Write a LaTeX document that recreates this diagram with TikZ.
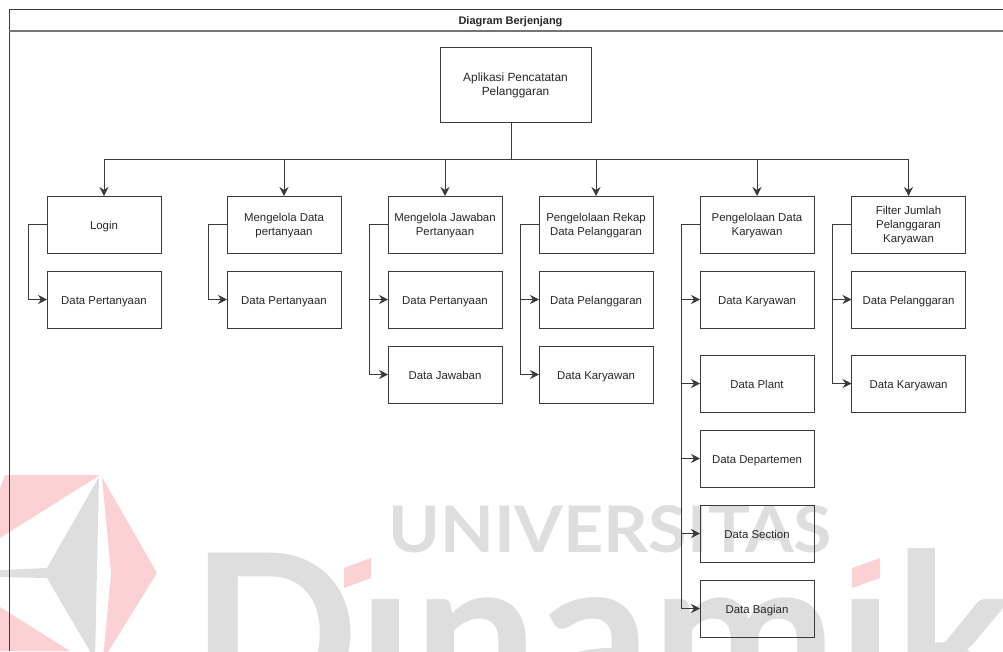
\documentclass[tikz,border=0pt]{standalone}
\usepackage{fontspec}
\usepackage{graphicx}
\setmainfont{Liberation Sans}
\newfontfamily\wmfont{Lato}
\usetikzlibrary{arrows.meta}
\definecolor{wmgray}{HTML}{DEDEDE}
\definecolor{wmred}{HTML}{FBD1D4}
\definecolor{ln}{HTML}{3A3A3A}
\newcommand\mlines[1]{\raisebox{-4pt}[0pt][0pt]{\begin{tabular}{@{}c@{}}#1\end{tabular}}}
\tikzset{
  basebox/.style={draw=ln,line width=0.9pt,minimum width=114pt,minimum height=57pt,inner sep=0pt,outer sep=0pt,font=\fontsize{11.4}{14}\selectfont,text=black!85},
  box/.style={basebox,execute at begin node={\rule{0pt}{12.5pt}},execute at end node={\rule[-3pt]{0pt}{0pt}}},
  mbox/.style={basebox},
  rootbox/.style={mbox,minimum width=151pt,minimum height=75pt,font=\fontsize{11.9}{14}\selectfont},
  conn/.style={draw=ln,line width=0.9pt,-{Stealth[length=9pt,width=9pt,inset=3pt]}},
  wire/.style={draw=ln,line width=0.9pt},
  wmtext/.style={inner sep=0pt,outer sep=0pt,anchor=base west,text=wmgray},
}
\begin{document}
\begin{tikzpicture}[x=1pt,y=-1pt]
\useasboundingbox (0,0) rectangle (1003,651);
% watermark
\begin{scope}
\clip (0,0) rectangle (1003,651);
\fill[wmred] (5,475) -- (100,475) -- (0,538) -- (0,488) -- cycle;
\fill[wmred] (102,477) -- (157,573) -- (103,660) -- (111,573) -- cycle;
\fill[wmred] (0,607) -- (70,651) -- (0,651) -- cycle;
\fill[wmgray] (99,477) -- (47,568) -- (0,570) -- (0,577) -- (47,578) -- (95,660) -- cycle;
\node[wmtext] (wmu) at (388,552) {\resizebox{444pt}{47pt}{\wmfont\bfseries UNIVERSITAS}};
\node[wmtext,font=\wmfont\bfseries\fontsize{222}{222}\selectfont] (wmd) at (190,713) {Dınamık};
\fill[wmred] (344,568) -- (371,558) -- (371,578) -- (344,588) -- cycle;
\fill[wmred] (852,568) -- (880,558) -- (880,578) -- (852,588) -- cycle;
\end{scope}
% frame
\draw[ln,line width=0.9pt] (1003,9.5) -- (9,9.5) -- (9,651);
\draw[ln!70,line width=1.2pt] (9,31) -- (1003,31);
\node[inner sep=0pt,font=\bfseries\fontsize{11}{13}\selectfont,text=black!85] (title) at (510.5,21.5) {Diagram Berjenjang};
% nodes
\node[rootbox] (root) at (515.5,84.5) {\mlines{Aplikasi Pencatatan\\Pelanggaran}};
\node[box] (a0) at (104,224.5) {Login};
\node[box] (a1) at (104,299.5) {Data Pertanyaan};
\node[mbox] (b0) at (284,224.5) {\mlines{Mengelola Data\\pertanyaan}};
\node[box] (b1) at (284,299.5) {Data Pertanyaan};
\node[mbox] (c0) at (445,224.5) {\mlines{Mengelola Jawaban\\Pertanyaan}};
\node[box] (c1) at (445,299.5) {Data Pertanyaan};
\node[box] (c2) at (445,374.5) {Data Jawaban};
\node[mbox] (d0) at (596,224.5) {\mlines{Pengelolaan Rekap\\Data Pelanggaran}};
\node[box] (d1) at (596,299.5) {Data Pelanggaran};
\node[box] (d2) at (596,374.5) {Data Karyawan};
\node[mbox] (e0) at (757,224.5) {\mlines{Pengelolaan Data\\Karyawan}};
\node[box] (e1) at (757,299.5) {Data Karyawan};
\node[box] (e2) at (757,383.5) {Data Plant};
\node[box] (e3) at (757,458.5) {Data Departemen};
\node[box] (e4) at (757,533.5) {Data Section};
\node[box] (e5) at (757,608.5) {Data Bagian};
\node[mbox] (f0) at (908.5,224.5) {\mlines{Filter Jumlah\\Pelanggaran\\Karyawan}};
\node[box] (f1) at (908.5,299.5) {Data Pelanggaran};
\node[box] (f2) at (908.5,383.5) {Data Karyawan};
% top bus
\coordinate (rs) at ([xshift=-4.5pt]root.south);
\coordinate (bus) at (511,159);
\draw[wire] (rs) -- (bus);
\foreach \n in {a0,b0,c0,d0,e0,f0}{
  \draw[conn] (bus) -| (\n.north);
}
% children
\foreach \p/\c in {a0/a1,b0/b1,c0/c1,c0/c2,d0/d1,d0/d2,e0/e1,e0/e2,e0/e3,e0/e4,e0/e5,f0/f1,f0/f2}{
  \draw[conn] (\p.west) -- ++(-19,0) |- (\c.west);
}
\end{tikzpicture}
\end{document}
